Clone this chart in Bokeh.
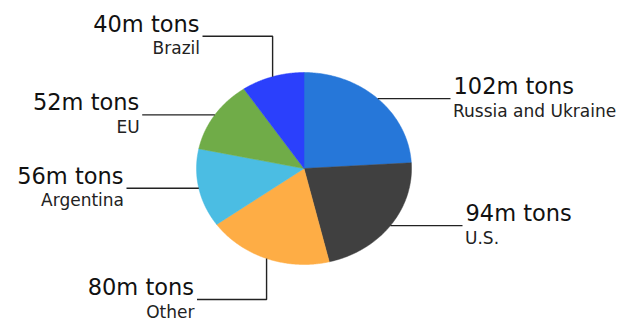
import numpy as np
from bokeh.plotting import figure
from bokeh.models import Range1d
from bokeh.core.properties import value
from bokeh.embed import file_html
from bokeh.resources import INLINE

# ---- data ----
regions = ["Russia and Ukraine", "U.S.", "Other", "Argentina", "EU", "Brazil"]
tons = [102, 94, 80, 56, 52, 40]
value_labels = ["102m tons", "94m tons", "80m tons", "56m tons", "52m tons", "40m tons"]
colors = ["#2677d9", "#404040", "#fead45", "#4bbde3", "#70ac48", "#2b40fc"]

# ---- layout (pixel frame) ----
W, H = 619, 320
CX, CY, RX, RY = 303.5, 168.0, 107.5, 96.0
# leader routing: elbow y (None = straight horizontal), end x, side (+1 right, -1 left)
elbow_y = [None, None, 299.0, None, None, 35.7]
end_x = [450.0, 462.0, 196.5, 126.0, 141.7, 202.0]
side = [1, 1, -1, -1, -1, -1]

p = figure(width=W, height=H, output_backend="svg", toolbar_location=None,
           x_range=Range1d(0, W), y_range=Range1d(H, 0), min_border=0,
           outline_line_color=None, background_fill_color="white",
           border_fill_color="white")
p.axis.visible = False
p.grid.visible = False

vals = np.array(tons, dtype=float)
frac = vals / vals.sum()
ends = np.pi / 2 - 2 * np.pi * np.cumsum(frac)
starts = ends + 2 * np.pi * frac

xs, ys = [], []
for s, e in zip(starts, ends):
    a = np.linspace(s, e, 120)
    xs.append(list(np.r_[CX, CX + RX * np.cos(a)]))
    ys.append(list(np.r_[CY, CY - RY * np.sin(a)]))
p.patches(xs, ys, fill_color=colors, line_color=colors, line_width=0.5)

mids = (starts + ends) / 2
for i, m in enumerate(mids):
    ex, ey = CX + RX * np.cos(m), CY - RY * np.sin(m)
    if elbow_y[i] is None:
        lx, ly = [ex, end_x[i]], [ey, ey]
        line_y = ey
    else:
        lx, ly = [ex, ex, end_x[i]], [ey, elbow_y[i], elbow_y[i]]
        line_y = elbow_y[i]
    p.line(lx, ly, line_color="#222222", line_width=1.4)
    tx = end_x[i] + 3 * side[i]
    align = "left" if side[i] > 0 else "right"
    p.text([tx], [line_y - 12.5], text=[value_labels[i]], text_align=align,
           text_baseline="alphabetic", text_font=value("DejaVu Sans"),
           text_font_size="22.5px", text_color="#111111")
    p.text([tx - 0.5 * side[i]], [line_y + 12], text=[regions[i]], text_align=align,
           text_baseline="alphabetic", text_font=value("DejaVu Sans"),
           text_font_size="17px", text_color="#222222")

open("out.html", "w").write(file_html(p, INLINE))
